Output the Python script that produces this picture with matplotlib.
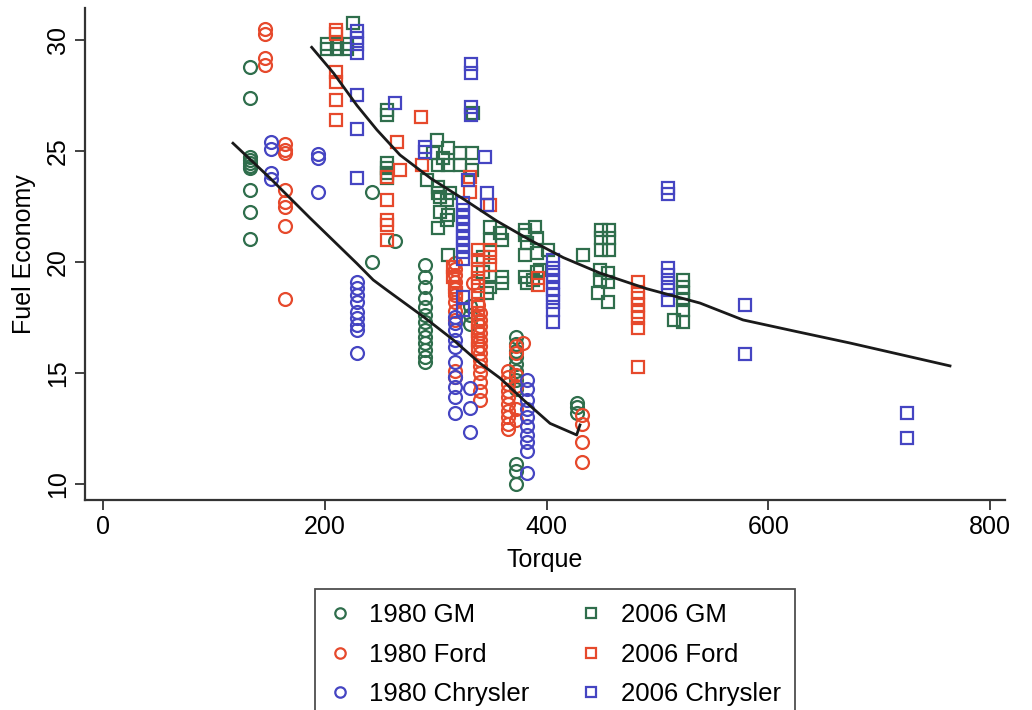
import matplotlib
matplotlib.use("Agg")
import matplotlib.pyplot as plt
from matplotlib.lines import Line2D

plt.rcParams['font.family'] = ['Liberation Sans', 'DejaVu Sans']

# ---- data (torque, fuel economy) ----
gm80_t = [132.6]*10 + [242.6, 242.6, 263.3] + [290.4]*13 + [331]*3 + [372]*11 + [427.4]*3
gm80_y = [28.78, 27.39, 24.73, 24.59, 24.46, 24.32, 24.23, 23.24, 22.25, 21.04,
          23.15, 20.00, 20.95,
          19.86, 19.32, 18.87, 18.38, 17.97, 17.61, 17.30, 16.94, 16.62, 16.35, 16.04, 15.72, 15.50,
          18.0, 17.6, 17.2,
          16.6, 16.3, 16.0, 15.7, 15.4, 15.1, 14.7, 14.3, 10.9, 10.6, 10.0,
          13.67, 13.45, 13.22]

ford80_t = ([146.1]*4 + [164.1]*8 + [317.4]*11 + [333.6, 338, 378.7] + [340]*13
            + [365]*10 + [372]*6 + [431.9]*4)
ford80_y = [30.50, 30.27, 29.19, 28.87,
            25.32, 25.05, 24.91, 23.24, 22.70, 22.48, 21.62, 18.33,
            19.95, 19.7, 19.4, 19.1, 18.8, 18.5, 18.2, 17.8, 17.4, 15.1, 14.8,
            19.05, 18.06, 16.35,
            17.7, 17.4, 17.1, 16.8, 16.5, 16.2, 15.9, 15.6, 15.3, 15.0, 14.6, 14.2, 13.8,
            15.1, 14.8, 14.5, 14.2, 13.9, 13.6, 13.3, 13.0, 12.7, 12.5,
            16.2, 15.9, 14.9, 14.4, 13.4, 12.9,
            13.11, 12.70, 11.90, 11.00]

chry80_t = [151.5]*4 + [193.9]*3 + [229]*9 + [317.4]*10 + [330.9]*3 + [382]*10
chry80_y = [25.41, 25.09, 24.01, 23.74,
            24.86, 24.68, 23.17,
            19.10, 18.83, 18.51, 18.20, 17.75, 17.48, 17.16, 16.94, 15.90,
            17.52, 17.25, 16.94, 16.49, 16.17, 15.51, 14.83, 14.38, 13.92, 13.18,
            14.31, 13.41, 12.36,
            14.7, 14.3, 13.8, 13.4, 13.0, 12.6, 12.2, 11.9, 11.5, 10.5]

gm06_t = [202, 202, 211, 211, 220, 220, 225.4,
          256.1, 256.1, 256.1, 256.1, 256.1, 256.1,
          297.6, 306.6, 311.1, 321.9, 332.7, 311.1, 321.9, 332.7, 302.1, 292.2, 302.1, 312.9,
          302.1, 301.2, 333.6, 303.9, 311.1, 302.1, 310.2, 311.1, 309.9, 303.9,
          342.6, 342.6, 349.0, 359.8, 349.0, 359.8, 346.3, 349.0, 358.0, 359.8, 349.0,
          380.5, 389.5, 382.3, 391.3, 380.5, 391.3, 380.5, 387.7, 380.5, 391.3, 401.3, 382.3, 394.0,
          432.8,
          449.1, 456.3, 449.1, 456.3, 449.1, 456.3, 448.2, 455.4, 448.2, 455.4, 446.3, 455.4,
          523, 523, 523, 523, 523, 523, 514.9]
gm06_y = [29.6, 29.8, 29.6, 29.8, 29.6, 29.8, 30.75,
          26.85, 26.62, 24.46, 24.23, 24.01, 23.78,
          24.91, 24.68, 25.14, 24.91, 24.91, 24.37, 24.37, 24.14, 24.37, 23.69, 23.38, 23.11,
          23.11, 25.50, 26.70, 22.25, 22.12, 21.53, 21.89, 20.32, 22.79, 22.94,
          20.23, 19.55, 19.32, 19.32, 18.87, 19.05, 18.60, 21.58, 21.31, 20.99, 20.99,
          21.44, 21.58, 20.86, 20.41, 20.32, 19.55, 19.32, 19.19, 21.22, 21.08, 20.54, 19.05, 19.64,
          20.32,
          21.44, 21.44, 21.08, 21.08, 20.54, 20.54, 19.64, 19.50, 19.19, 19.10, 18.60, 18.20,
          19.19, 18.87, 18.60, 18.29, 17.84, 17.30, 17.39]

ford06_t = ([210]*6 + [256.1]*5 + [264.7, 267.8, 286.5, 287.4]
            + [330.9, 330.9, 349.0, 349.0, 349.0, 349.0, 315.6, 315.6, 317.0, 318.0]
            + [338]*12 + [392.3, 392.3] + [482.4]*8)
ford06_y = [30.45, 30.25, 28.55, 28.12, 27.30, 26.40,
            23.83, 22.79, 21.89, 21.66, 20.99,
            25.42, 24.14, 26.52, 24.37,
            23.84, 23.17, 22.57, 20.54, 20.23, 19.86, 19.77, 19.32, 18.87, 18.60,
            20.54, 20.1, 19.7, 19.3, 18.9, 18.5, 18.1, 17.7, 17.3, 16.9, 16.5, 16.1,
            19.27, 18.96,
            19.11, 18.66, 18.36, 18.06, 17.77, 17.47, 17.01, 15.28]

chry06_t = ([229]*7 + [263.3, 290.4, 290.4] + [332]*4 + [324.6]*11
            + [344.5, 329.4, 346.0, 346.0] + [405.8]*9 + [509.5]*7
            + [578.9, 578.9, 725.0, 725.0])
chry06_y = [30.4, 30.1, 29.8, 29.4, 27.5, 26.0, 23.8,
            27.15, 25.19, 24.97,
            28.9, 28.5, 27.0, 26.6,
            22.66, 22.34, 22.03, 21.71, 21.40, 21.08, 20.77, 20.45, 20.14, 18.44, 17.84,
            24.74, 23.69, 23.09, 22.57,
            20.09, 19.73, 19.41, 19.10, 18.80, 18.50, 18.20, 17.84, 17.31,
            23.35, 23.05, 19.73, 19.41, 19.05, 18.74, 18.29,
            18.06, 15.86, 13.20, 12.09]

# smoothed fit lines
fit80_t = [117.2, 150.6, 186.7, 228.8, 243.7, 255.8, 288.8, 315.9, 339.9, 358.0, 380.0, 403.1, 427.1, 430.1]
fit80_y = [25.35, 23.78, 21.98, 19.94, 19.19, 18.74, 17.54, 16.49, 15.44, 14.77, 13.75, 12.73, 12.21, 12.66]
fit06_t = [188.2, 208.0, 229.0, 247.0, 267.8, 296.0, 326.4, 355.0, 385.0, 415.0, 448.2, 490.0,
           538.3, 577.1, 625.0, 673.6, 720.0, 763.7]
fit06_y = [29.67, 28.50, 27.05, 25.95, 24.82, 23.75, 22.79, 21.85, 20.99, 20.20, 19.50, 18.80,
           18.15, 17.39, 16.87, 16.35, 15.82, 15.32]

labels = ['1980 GM', '1980 Ford', '1980 Chrysler', '2006 GM', '2006 Ford', '2006 Chrysler']
green, red, blue = '#2f6e4c', '#e6492c', '#4545c2'

fig = plt.figure(figsize=(10.32, 7.10), dpi=100)
ax = fig.add_axes([85/1032, 1 - 500/710, 920/1032, 492/710])

series = [(gm80_t, gm80_y, green, 'o'), (ford80_t, ford80_y, red, 'o'),
          (chry80_t, chry80_y, blue, 'o'), (gm06_t, gm06_y, green, 's'),
          (ford06_t, ford06_y, red, 's'), (chry06_t, chry06_y, blue, 's')]
for t, y, c, m in series:
    ax.plot(t, y, linestyle='none', marker=m, markersize=9.3, markerfacecolor='none',
            markeredgecolor=c, markeredgewidth=1.6)

ax.plot(fit80_t, fit80_y, color='#1a1a1a', lw=2.0)
ax.plot(fit06_t, fit06_y, color='#1a1a1a', lw=2.0)

ax.set_xlim(-16.2, 813.3)
ax.set_ylim(9.28, 31.44)
ax.set_xticks([0, 200, 400, 600, 800])
ax.set_yticks([10, 15, 20, 25, 30])
for s in ['top', 'right']:
    ax.spines[s].set_visible(False)
for s in ['left', 'bottom']:
    ax.spines[s].set_linewidth(1.6)
    ax.spines[s].set_color('#333333')
ax.tick_params(axis='both', length=7, width=1.3, color='#333333', labelsize=18, pad=4)
for lab in ax.get_yticklabels():
    lab.set_rotation(90)
    lab.set_va('center')
ax.set_xlabel('Torque', fontsize=18, labelpad=6)
ax.set_ylabel('Fuel Economy', fontsize=18, labelpad=7)

handles = [Line2D([], [], linestyle='none', marker=m, markersize=7.5, markerfacecolor='none',
                  markeredgecolor=c, markeredgewidth=1.6) for _, _, c, m in series]
leg = fig.legend(handles, labels, ncol=2, loc='upper center', bbox_to_anchor=(555/1032, 1 - 589/710),
                 fontsize=18.5, frameon=True, fancybox=False, edgecolor='#222222',
                 handlelength=0.8, handletextpad=0.75, columnspacing=2.0, borderpad=0.55,
                 labelspacing=0.6, borderaxespad=0)
leg.get_frame().set_linewidth(1.3)

fig.savefig('out.png', dpi=100)
